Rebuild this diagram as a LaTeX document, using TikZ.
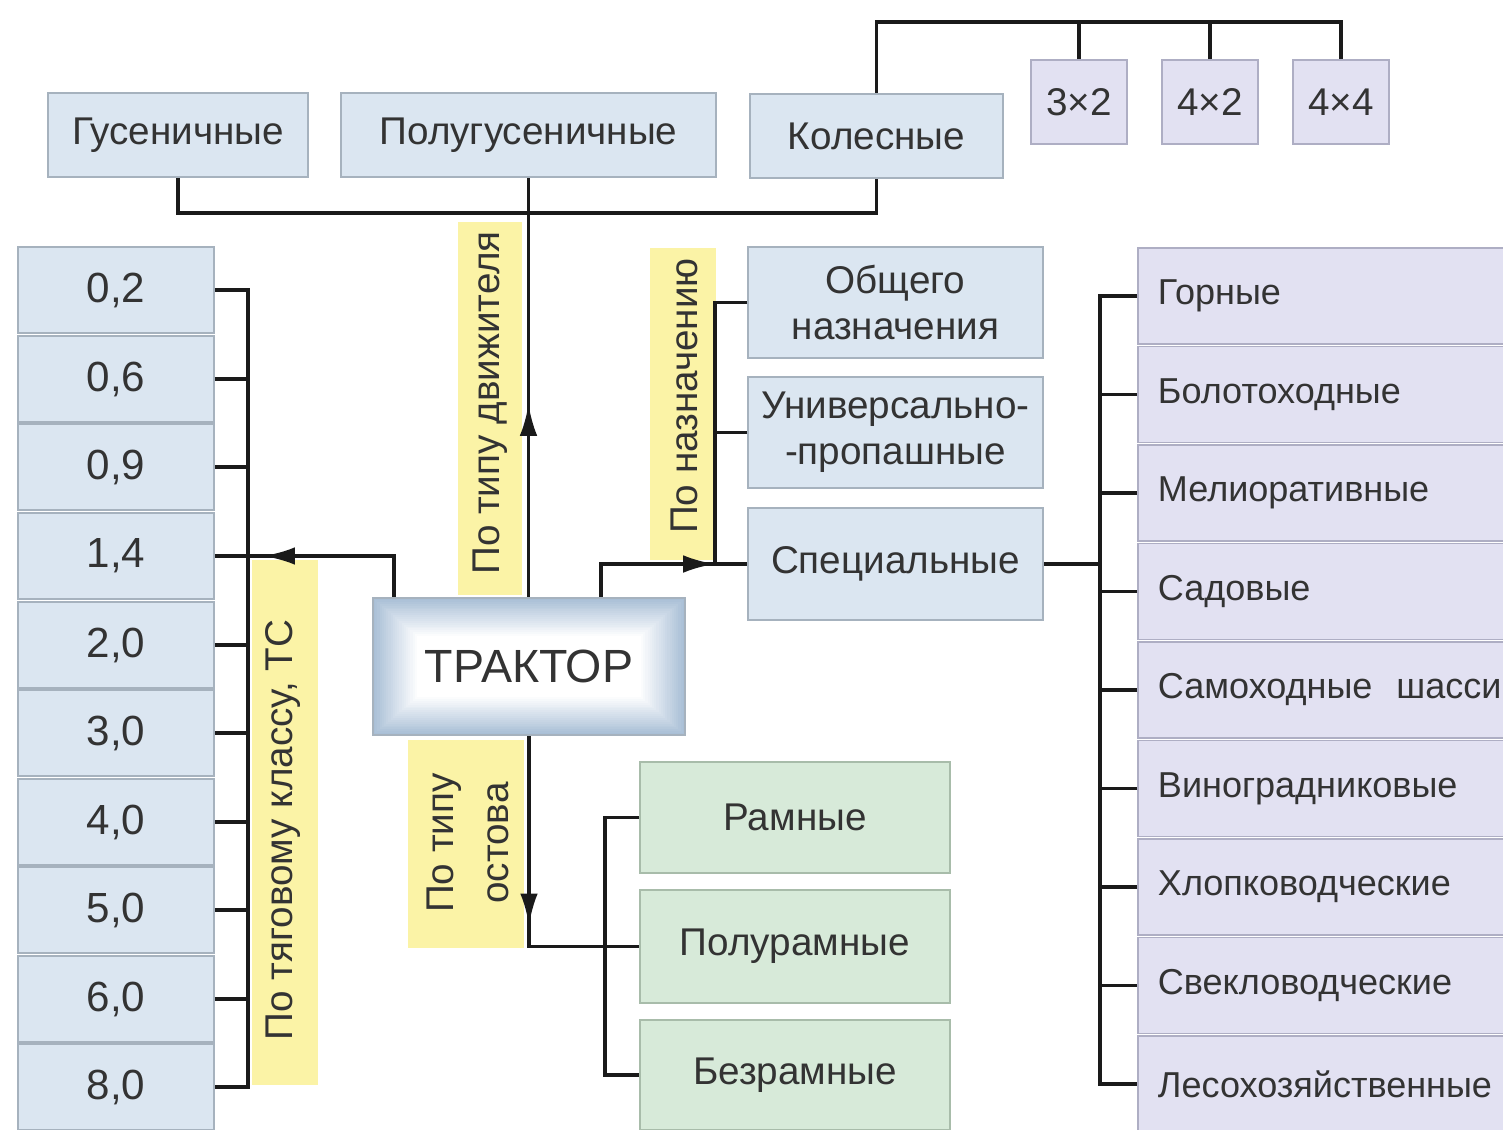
\documentclass[tikz,border=0pt]{standalone}
\usepackage{fontspec}
\setmainfont{Liberation Sans}
\usetikzlibrary{arrows.meta,decorations.markings,calc}
\definecolor{txt}{HTML}{333333}
\definecolor{fillblue}{HTML}{DBE6F1}
\definecolor{bordblue}{HTML}{A6B2BE}
\definecolor{filllav}{HTML}{E2E1F2}
\definecolor{bordlav}{HTML}{AEAEC4}
\definecolor{fillgreen}{HTML}{D7EAD9}
\definecolor{bordgreen}{HTML}{A8BCAA}
\definecolor{linec}{HTML}{1A1A1A}
\definecolor{stripy}{HTML}{FBF3A6}
\definecolor{trakblue}{HTML}{A9BFD6}
\begin{document}
\begin{tikzpicture}[x=0.02cm,y=-0.02cm,
  every node/.style={text=txt, font=\fontsize{22}{26}\selectfont},
  sz/.style 2 args={minimum width=#1*0.02cm, minimum height=#2*0.02cm},
  bluebox/.style={draw=bordblue, fill=fillblue, line width=1.1pt, inner sep=1pt, align=center},
  numbox/.style={bluebox, sz={196}{86}, font=\fontsize{24}{28}\selectfont},
  lavbox/.style={draw=bordlav, fill=filllav, line width=1.1pt, inner sep=1pt},
  rightbox/.style={lavbox, anchor=west, sz={380}{96}, text width=340*0.02cm, align=left, inner xsep=18*0.02cm, font=\fontsize{20.5}{24}\selectfont},
  greenbox/.style={draw=bordgreen, fill=fillgreen, line width=1.1pt, inner sep=1pt},
  conn/.style={draw=linec, line width=1.9pt},
  midarrow/.style={conn, postaction={decorate}, decoration={markings, mark=at position #1 with {\arrow{Latex[length=18pt,width=10pt]}}}},
  strip/.style={fill=stripy},
  striplabel/.style={rotate=90, align=center}
]
\useasboundingbox (0,0) rectangle (1503,1129);
\clip (0,0) rectangle (1503,1129);
\fill[white] (0,0) rectangle (1503,1129);

% yellow strips
\fill[strip] (458,222) rectangle (522,595);
\fill[strip] (650,248) rectangle (716,560);
\fill[strip] (252,560) rectangle (318,1085);
\fill[strip] (408,740) rectangle (524,948);

% strip labels
\node[striplabel] (lbl1) at (490,403) {По типу движителя};
\node[striplabel] (lbl2) at (684,396) {По назначению};
\node[striplabel] (lbl3) at (283,830) {По тяговому классу, ТС};
\node[striplabel, font=\fontsize{22}{31}\selectfont] (lbl4) at (468,843) {По типу\\остова};

% top boxes
\node[bluebox, sz={260}{84}] (gus) at (178,135) {Гусеничные};
\node[bluebox, sz={375}{84}] (polu) at (528.5,135) {Полугусеничные};
\node[bluebox, sz={253}{84}] (kol) at (876.5,136) {Колесные};
\node[lavbox, sz={96}{84}] (w32) at (1079,102) {3×2};
\node[lavbox, sz={96}{84}] (w42) at (1210,102) {4×2};
\node[lavbox, sz={96}{84}] (w44) at (1341,102) {4×4};

% TRAKTOR with inner glow
\foreach \i in {0,...,20}{
  \pgfmathtruncatemacro\p{100-\i*5}
  \fill[trakblue!\p!white] (373+\i*2.2, 598+\i*1.9) rectangle (685-\i*2.2, 735-\i*1.9);
}
\node[draw=bordblue, line width=1.2pt, sz={312}{137}, font=\fontsize{26.5}{31}\selectfont] (trak) at (529,666.5) {ТРАКТОР};

% left column
\node[numbox] (c1) at (116,290) {0,2};
\node[numbox] (c2) at (116,379) {0,6};
\node[numbox] (c3) at (116,467) {0,9};
\node[numbox] (c4) at (116,556) {1,4};
\node[numbox] (c5) at (116,645) {2,0};
\node[numbox] (c6) at (116,733) {3,0};
\node[numbox] (c7) at (116,822) {4,0};
\node[numbox] (c8) at (116,910) {5,0};
\node[numbox] (c9) at (116,999) {6,0};
\node[numbox] (c10) at (116,1087) {8,0};

% purpose boxes
\node[bluebox, sz={295}{111}] (obsh) at (895.5,302.5) {Общего\\назначения};
\node[bluebox, sz={295}{111}] (univ) at (895.5,432.5) {Универсально-\\-пропашные};
\node[bluebox, sz={295}{112}] (spec) at (895.5,564) {Специальные};

% frame boxes
\node[greenbox, sz={310}{111}] (ram) at (795,817.5) {Рамные};
\node[greenbox, sz={310}{113}] (polur) at (795,946.5) {Полурамные};
\node[greenbox, sz={310}{110}] (bezr) at (795,1075) {Безрамные};

% right column
\node[rightbox] (r1) at (1137,296) {\mbox{Горные}};
\node[rightbox] (r2) at (1137,394.5) {\mbox{Болотоходные}};
\node[rightbox] (r3) at (1137,493) {\mbox{Мелиоративные}};
\node[rightbox] (r4) at (1137,591.5) {\mbox{Садовые}};
\node[rightbox] (r5) at (1137,690) {\mbox{Самоходные\ \ шасси}};
\node[rightbox] (r6) at (1137,788.5) {\mbox{Виноградниковые}};
\node[rightbox] (r7) at (1137,887) {\mbox{Хлопководческие}};
\node[rightbox] (r8) at (1137,985.5) {\mbox{Свекловодческие}};
\node[rightbox] (r9) at (1137,1084) {\mbox{Лесохозяйственные}};

% connectors: top
\coordinate (tb) at (0,22);
\draw[conn] (kol.north) |- (tb -| w44.north) -- (w44.north);
\draw[conn] (w32.north) -- (w32.north |- tb);
\draw[conn] (w42.north) -- (w42.north |- tb);
\coordinate (bb) at (0,213);
\draw[conn] (gus.south) |- (bb -| kol.south) -- (kol.south);
\draw[midarrow=0.46] (trak.north -| polu.south) -- (polu.south);

% connectors: left
\coordinate (lb) at (248,0);
\draw[conn] (c1.east) -| (lb |- c10.east) -- (c10.east);
\foreach \n in {2,...,9} \draw[conn] (c\n.east) -- (c\n.east -| lb);
\draw[midarrow=0.78] ([xshift=0.44cm]trak.north west) |- (c4.east);

% connectors: purpose
\draw[midarrow=0.82] ([xshift=-1.7cm]trak.north east) |- (spec.west);
\coordinate (nb) at (715,0);
\draw[conn] (obsh.west) -| (nb |- spec.west);
\draw[conn] (univ.west) -- (univ.west -| nb);

% connectors: special
\coordinate (rb) at (1100,0);
\draw[conn] (spec.east) -- (spec.east -| rb);
\draw[conn] (r1.west) -| (rb |- r9.west) -- (r9.west);
\foreach \n in {2,...,8} \draw[conn] (r\n.west) -- (r\n.west -| rb);

% connectors: frame
\draw[midarrow=0.59] (trak.south) |- (polur.west);
\coordinate (gb) at (605,0);
\draw[conn] (ram.west) -| (gb |- bezr.west) -- (bezr.west);
\end{tikzpicture}
\end{document}
